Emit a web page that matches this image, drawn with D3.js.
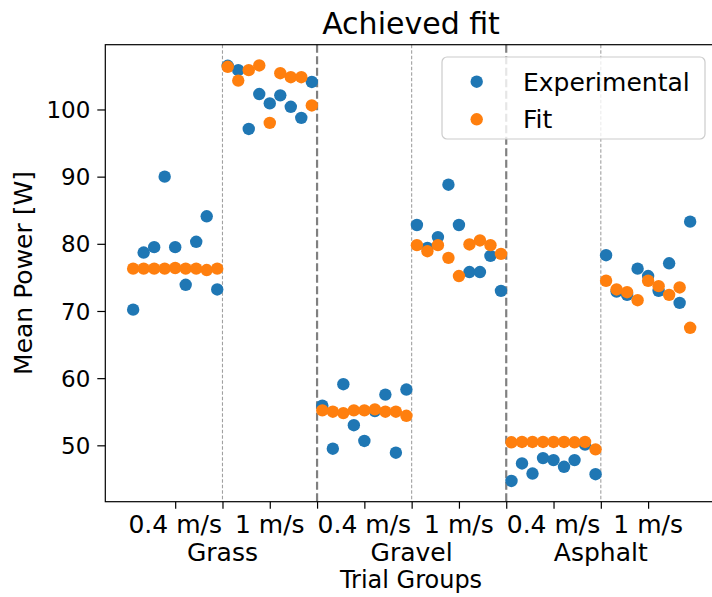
<!DOCTYPE html>
<html>
<head>
<meta charset="utf-8">
<script src="https://cdn.jsdelivr.net/npm/d3@7"></script>
<style>
  html, body { margin: 0; padding: 0; background: #fff; }
  svg { display: block; }
  text { font-family: "DejaVu Sans", sans-serif; fill: #000; }
</style>
</head>
<body>
<svg id="chart" width="712" height="597"></svg>
<script>
// ---- data ----
const surfaces = ["Grass", "Gravel", "Asphalt"];
const speeds = ["0.4 m/s", "1 m/s"];
const yTicks = [50, 60, 70, 80, 90, 100];
const experimental = [
  70.2, 78.7, 79.5, 90.0, 79.5, 73.9, 80.3, 84.1, 73.2,
  106.5, 105.85, 97.1, 102.3, 100.9, 102.1, 100.4, 98.75, 104.1,
  55.9, 49.5, 59.1, 53.0, 50.65, 55.1, 57.55, 48.9, 58.3,
  82.8, 79.4, 81.0, 88.8, 82.8, 75.8, 75.8, 78.2, 73.0,
  44.7, 47.3, 45.8, 48.1, 47.8, 46.8, 47.8, 50.1, 45.7,
  78.3, 72.9, 72.4, 76.3, 75.2, 73.0, 77.1, 71.2, 83.3
];
const fit = [
  76.3, 76.3, 76.3, 76.3, 76.4, 76.3, 76.3, 76.1, 76.3,
  106.35, 104.3, 105.85, 106.55, 98.0, 105.4, 104.8, 104.8, 100.6,
  55.2, 55.0, 54.8, 55.2, 55.2, 55.35, 55.0, 55.0, 54.4,
  79.8, 78.9, 79.8, 77.9, 75.2, 79.9, 80.5, 79.8, 78.5,
  50.45, 50.5, 50.5, 50.5, 50.5, 50.5, 50.45, 50.5, 49.4,
  74.5, 73.2, 72.8, 71.6, 74.5, 73.7, 72.4, 73.5, 67.5
];
const perGroup = 9;

(function () {
// ---- layout ----
const svg = d3.select("#chart");
const pL = 105.3, pR = 718, pT = 44.7, pB = 501.7;
const n = experimental.length;
const xPad = (n - 1) * 0.05;
const x = d3.scaleLinear().domain([-xPad, n - 1 + xPad]).range([pL, pR]);
const all = experimental.concat(fit);
const yMin = d3.min(all), yMax = d3.max(all), yPad = (yMax - yMin) * 0.05;
const y = d3.scaleLinear().domain([yMin - yPad, yMax + yPad]).range([pB, pT]);

const blue = "#1f77b4", orange = "#ff7f0e";

// vertical separators
const nSub = surfaces.length * speeds.length;
for (let k = 1; k < nSub; k++) {
  const xv = x(k * perGroup - 0.5);
  const thick = (k % speeds.length === 0);
  svg.append("line")
    .attr("x1", xv).attr("x2", xv).attr("y1", pT).attr("y2", pB)
    .attr("stroke", thick ? "#808080" : "#a0a0a0")
    .attr("stroke-width", thick ? 2.2 : 1.1)
    .attr("stroke-dasharray", thick ? "8,3.5" : "3.5,2");
}

// scatter
const r = 6.2;
svg.append("g").selectAll("circle").data(experimental).join("circle")
  .attr("cx", (d, i) => x(i)).attr("cy", d => y(d)).attr("r", r).attr("fill", blue);
svg.append("g").selectAll("circle").data(fit).join("circle")
  .attr("cx", (d, i) => x(i)).attr("cy", d => y(d)).attr("r", r).attr("fill", orange);

// axes
const yAxis = d3.axisLeft(y).tickValues(yTicks).tickSize(8).tickPadding(7);
const gy = svg.append("g").attr("transform", `translate(${pL},0)`).call(yAxis);
gy.select(".domain").remove();
gy.selectAll("line").attr("stroke", "#000").attr("stroke-width", 1.2);
gy.selectAll("text").style("font-size", "23px").attr("dy", "0.35em")
  .attr("font-family", "DejaVu Sans");

// x ticks: speed centers + boundaries
const speedPos = [], speedLab = [], surfPos = [], surfLab = [], sepPos = [];
for (let s = 0; s < surfaces.length; s++) {
  for (let v = 0; v < speeds.length; v++) {
    const g = s * speeds.length + v;
    speedPos.push(g * perGroup + (perGroup - 1) / 2);
    speedLab.push(speeds[v]);
    if (g > 0) sepPos.push(g * perGroup - 0.5);
  }
  surfPos.push((s * speeds.length + 1) * perGroup - 0.5);
  surfLab.push(surfaces[s]);
}
const tickPos = speedPos.concat(surfPos, sepPos.filter(p => !surfPos.includes(p)));
const xAxis = d3.axisBottom(x).tickValues(tickPos).tickSize(7).tickFormat("");
const gx = svg.append("g").attr("transform", `translate(0,${pB})`).call(xAxis);
gx.select(".domain").remove();
gx.selectAll("line").attr("stroke", "#000").attr("stroke-width", 1.2);

svg.append("g").selectAll("text").data(speedPos).join("text")
  .attr("x", d => x(d)).attr("y", 533).attr("text-anchor", "middle")
  .style("font-size", "25px").text((d, i) => speedLab[i]);
svg.append("g").selectAll("text").data(surfPos).join("text")
  .attr("x", d => x(d)).attr("y", 561).attr("text-anchor", "middle")
  .style("font-size", "25px").text((d, i) => surfLab[i]);

// frame
svg.append("rect").attr("x", pL).attr("y", pT)
  .attr("width", pR - pL).attr("height", pB - pT)
  .attr("fill", "none").attr("stroke", "#000").attr("stroke-width", 1.2);

// labels
svg.append("text").attr("x", 411).attr("y", 588)
  .attr("text-anchor", "middle").style("font-size", "24px").text("Trial Groups");
svg.append("text").attr("transform", "translate(32,273) rotate(-90)")
  .attr("text-anchor", "middle").style("font-size", "25px").text("Mean Power [W]");
svg.append("text").attr("x", 411).attr("y", 34)
  .attr("text-anchor", "middle").style("font-size", "30px").text("Achieved fit");

// legend
const lg = svg.append("g");
lg.append("rect").attr("x", 442).attr("y", 57).attr("width", 263).attr("height", 82)
  .attr("rx", 5).attr("fill", "#fff").attr("fill-opacity", 0.8)
  .attr("stroke", "#cccccc").attr("stroke-width", 1.2);
const legItems = [{label: "Experimental", color: blue, y: 81.7}, {label: "Fit", color: orange, y: 119.3}];
legItems.forEach(it => {
  lg.append("circle").attr("cx", 476.7).attr("cy", it.y).attr("r", r).attr("fill", it.color);
  lg.append("text").attr("x", 523).attr("y", it.y).attr("dy", "0.36em")
    .style("font-size", "25px").text(it.label);
});
})();
</script>
</body>
</html>
